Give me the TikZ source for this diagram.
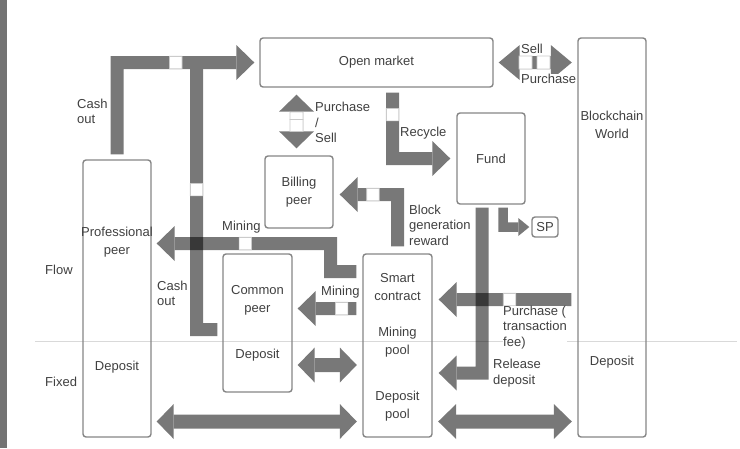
\documentclass[tikz,border=0pt]{standalone}
\usepackage{fontspec}
\setmainfont{Liberation Sans}
\usetikzlibrary{arrows.meta}

\tikzset{
  box/.style={draw=black!48, line width=1.4pt, rounded corners=3pt, inner sep=0pt},
  txt/.style={text=black!75, align=center, font=\fontsize{13}{18}\selectfont},
  lbl/.style={text=black!75, fill=white, align=left, anchor=west, inner sep=0pt, yshift=-1pt, font=\fontsize{13}{15.5}\selectfont},
  flow/.style={transparency group, opacity=.53},
  bar/.style={draw=black, line width=13pt},
  thinbar/.style={draw=black, line width=9.5pt},
  onehead/.style={-{Triangle[width=35pt 0 0, length=18pt 0 0, line width=0pt 0 0]}},
  smallhead/.style={-{Triangle[width=18pt 0 0, length=11pt 0 0, line width=0pt 0 0]}},
  twoheads/.style={{Triangle[width=35pt 0 0, length=#1 0 0, line width=0pt 0 0]}-{Triangle[width=35pt 0 0, length=#1 0 0, line width=0pt 0 0]}},
  twoheads/.default=17pt,
  sq/.style={draw=black!40, fill=white, line width=.6pt, minimum size=12.5pt, inner sep=0pt},
}

\begin{document}
\begin{tikzpicture}[x=1pt,y=-1pt]
  \useasboundingbox (0,0) rectangle (740,448);
  % 左侧标尺
  \fill[black!55] (0,0) rectangle (7,448);
  % 流动 / 固定 分隔线
  \draw[black!15, line width=1pt] (35,341.7) -- (737,341.7);

  % 方框
  \node[box, txt, minimum width=233pt, minimum height=49pt] (market) at (376.5,62.5) {\raisebox{-1.5pt}{Open market}};
  \node[box, txt, minimum width=68pt, minimum height=91pt] (fund) at (491,158.5) {\raisebox{-1pt}{Fund}};
  \node[box, txt, minimum width=68pt, minimum height=72pt] (billing) at (299,192) {Billing\\peer};
  \node[box, txt, minimum width=26pt, minimum height=20pt] (sp) at (545,227) {SP};
  \node[box, minimum width=68pt, minimum height=399pt] (chain) at (612,237.5) {};
  \node[box, minimum width=68pt, minimum height=277pt] (prof) at (117,298.5) {};
  \node[box, minimum width=69pt, minimum height=138pt] (common) at (257.5,323) {};
  \node[box, minimum width=69pt, minimum height=183pt] (pool) at (397.5,345.5) {};

  % 方框里的文字
  \node[txt] (chaint) at (612,125) {Blockchain\\World};
  \node[txt] (chaind) at (612,362) {Deposit};
  \node[txt] (proft) at (117,242.5) {Professional\\peer};
  \node[txt] (profd) at (117,367) {Deposit};
  \node[txt] (commont) at (257.5,300) {Common\\peer};
  \node[txt] (commond) at (257.5,355) {Deposit};
  \node[txt] (poolt) at (397.5,287) {Smart\\contract};
  \node[txt] (poolm) at (397.5,342) {Mining\\pool};
  \node[txt] (poold) at (397.5,406) {Deposit\\pool};

  \coordinate (join) at (196.5,62.5);
  \coordinate (mbend) at (330.5,243.5);
  \coordinate (psx) at ([xshift=-2.5pt]billing.north);

  \begin{scope}[flow]
    % 提现到公开市场
    \draw[bar, onehead] ([yshift=5pt]prof.north) |- ([xshift=-5pt]market.west)
      node[sq, pos=.714] (sqa) {};
    \draw[bar] ([xshift=-5pt,yshift=-6.5pt]common.west) -| (join)
      node[sq, pos=.762] (sqb) {};
    % 挖矿奖励给普通节点
    \draw[bar, onehead] ([xshift=-6pt,yshift=37pt]pool.west) -- ([xshift=5pt,yshift=14.5pt]common.east)
      node[sq, pos=.25] (sqd) {};
    % 出块奖励
    \draw[bar, onehead] ([yshift=7pt]pool.north) |- ([xshift=6pt,yshift=-2.5pt]billing.east)
      node[sq, pos=.712] (sqe) {};
    % 买入 / 卖出
    \draw[bar, twoheads] ([yshift=-7pt]market.south -| psx) -- ([yshift=7pt]psx)
      node[sq, minimum width=13pt, minimum height=7.5pt, pos=.393] (sqf) {}
      node[sq, minimum width=13pt, minimum height=12pt, pos=.575] (sqg) {};
    \draw[bar, twoheads=21pt] ([xshift=5pt]market.east) -- ([xshift=-5.5pt]chain.west |- market.east)
      node[sq, minimum size=13pt, pos=.367] (sqh) {}
      node[sq, minimum size=13pt, pos=.613] (sqk) {};
    % 回收到基金
    \draw[bar, onehead] ([xshift=16pt,yshift=-5pt]market.south) |- ([xshift=-6pt]fund.west)
      node[sq, pos=.166] (sqi) {};
    % 基金 -> SP
    \draw[thinbar, smallhead] ([xshift=12pt,yshift=-3pt]fund.south) |- ([xshift=-2pt]sp.west);
    % 释放押金
    \draw[bar, onehead] ([xshift=-9pt,yshift=-3pt]fund.south) |- ([xshift=6pt,yshift=-27.5pt]pool.east);
    % 固定部分
    \draw[bar, line width=14pt, twoheads] ([xshift=5pt,yshift=-42pt]common.east) -- ([xshift=-5.5pt,yshift=-19.5pt]pool.west);
    \draw[bar, line width=14pt, twoheads] ([xshift=5pt,yshift=-123pt]prof.east) -- ([xshift=-5.5pt,yshift=-76pt]pool.west);
    \draw[bar, line width=14pt, twoheads=18pt] ([xshift=5.5pt,yshift=-76pt]pool.east) -- ([xshift=-5.5pt,yshift=-184pt]chain.west);
  \end{scope}

  \begin{scope}[flow]
    % 挖矿奖励给专业节点
    \draw[bar, onehead] ([xshift=-6pt,yshift=74pt]pool.west) -| (mbend) -- ([xshift=5pt]prof.east |- mbend)
      node[sq, pos=.49] (sqc) {};
  \end{scope}

  \begin{scope}[flow]
    % 购买（交易费）
    \draw[bar, onehead] ([xshift=-6pt,yshift=-62pt]chain.west) -- ([xshift=6pt,yshift=46pt]pool.east)
      node[sq, pos=.466] (sqj) {};
  \end{scope}

  % 标签
  \node[lbl] (cashouta) at (77,110.5) {Cash\\out};
  \node[lbl] (pslbl) at (315,121.5) {Purchase\\/\\Sell};
  \node[lbl] (selllbl) at (521,48) {Sell};
  \node[lbl] (purlbl) at (521,78) {Purchase};
  \node[lbl] (recyclbl) at (400,132) {Recycle};
  \node[lbl] (blocklbl) at (409,224) {Block\\generation\\reward};
  \node[lbl] (minlbla) at (222,226) {Mining};
  \node[lbl] (minlblb) at (321,291) {Mining};
  \node[lbl] (cashoutb) at (157,292.5) {Cash\\out};
  \node[lbl] (feelbl) at (503,326.5) {Purchase (\\transaction\\fee)};
  \node[lbl] (rellbl) at (493,372) {Release\\deposit};
  \node[lbl] (flowlbl) at (45,269) {Flow};
  \node[lbl] (fixlbl) at (45,381) {Fixed};
\end{tikzpicture}
\end{document}
